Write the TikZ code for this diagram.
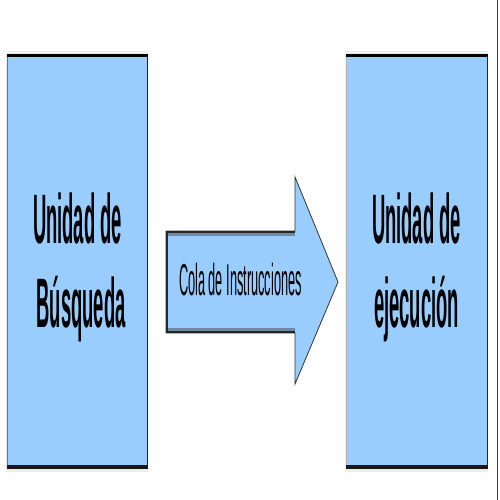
\documentclass[tikz,border=0pt]{standalone}
\usepackage{fontspec}
\setmainfont{Liberation Sans}
\definecolor{boxblue}{HTML}{99CCFF}
\definecolor{edgegray}{HTML}{6E8AA6}
\definecolor{shadowgray}{HTML}{EEEEEE}
\begin{document}
\begin{tikzpicture}[x=1pt,y=-1pt,
  bigtext/.style={anchor=base,inner sep=0pt,font=\fontsize{70}{84}\selectfont\bfseries},
  smalltext/.style={anchor=base,inner sep=0pt,font=\fontsize{44.7}{50}\selectfont},
  unitfill/.style={fill=boxblue},
  darkedge/.style={draw=black,line width=3.5pt},
  thinedge/.style={draw=black!85,line width=1pt}]
\useasboundingbox (0,0) rectangle (500,500);
\fill[white] (0,0) rectangle (500,500);
% right-hand frame line
\draw[black!75,line width=1pt] (497.5,0) -- (497.5,500);
% left unit
\fill[shadowgray] (6,51) rectangle (148,472);
\fill[unitfill] (7,55) rectangle (147,467);
\draw[black!55,line width=0.8pt] (7,55) -- (7,467);
\draw[thinedge] (147,55) -- (147,467);
\draw[darkedge] (6.5,55.6) -- (147.5,55.6);
\draw[darkedge,draw=black!90] (6.5,467) -- (147.5,467);
% right unit
\fill[shadowgray] (345,51) rectangle (488,472);
\fill[unitfill] (346,55) rectangle (487,467);
\draw[black!30,line width=0.8pt] (346,55) -- (346,467);
\draw[thinedge] (487,55) -- (487,467);
\draw[darkedge] (345.5,55.6) -- (487.5,55.6);
\draw[darkedge,draw=black!90] (345.5,467) -- (487.5,467);
% arrow
\coordinate (a1) at (166,231);
\coordinate (a2) at (295,231);
\coordinate (a3) at (295,177);
\coordinate (tip) at (338,282);
\coordinate (a5) at (295,384);
\coordinate (a6) at (295,333);
\coordinate (a7) at (166,333);
\filldraw[fill=boxblue,draw=black!80,line width=0.8pt]
  (a1) -- (a2) -- (a3) -- (tip) -- (a5) -- (a6) -- (a7) -- cycle;
\draw[edgegray,line width=2.5pt] (167,234.5) -- (295,234.5);
\draw[edgegray,line width=2.5pt] (167,329.5) -- (295,329.5);
\draw[black!85,line width=2.5pt] (166,232) -- (295,232);
\draw[black!85,line width=2.5pt] (166,332) -- (295,332);
\draw[black!85,line width=1.6pt] (166.8,231) -- (166.8,333);
% texts
\node[bigtext] (u1) at (77.5,243) {\scalebox{0.263}[1]{Unidad de}};
\node[bigtext] (u2) at (81,327) {\scalebox{0.263}[1]{Búsqueda}};
\node[bigtext] (e1) at (416.5,243) {\scalebox{0.263}[1]{Unidad de}};
\node[bigtext] (e2) at (416.5,327) {\scalebox{0.263}[1]{ejecución}};
\node[smalltext] (cola) at (240.5,295) {\scalebox{0.286}[1]{Cola de Instrucciones}};
\end{tikzpicture}
\end{document}
